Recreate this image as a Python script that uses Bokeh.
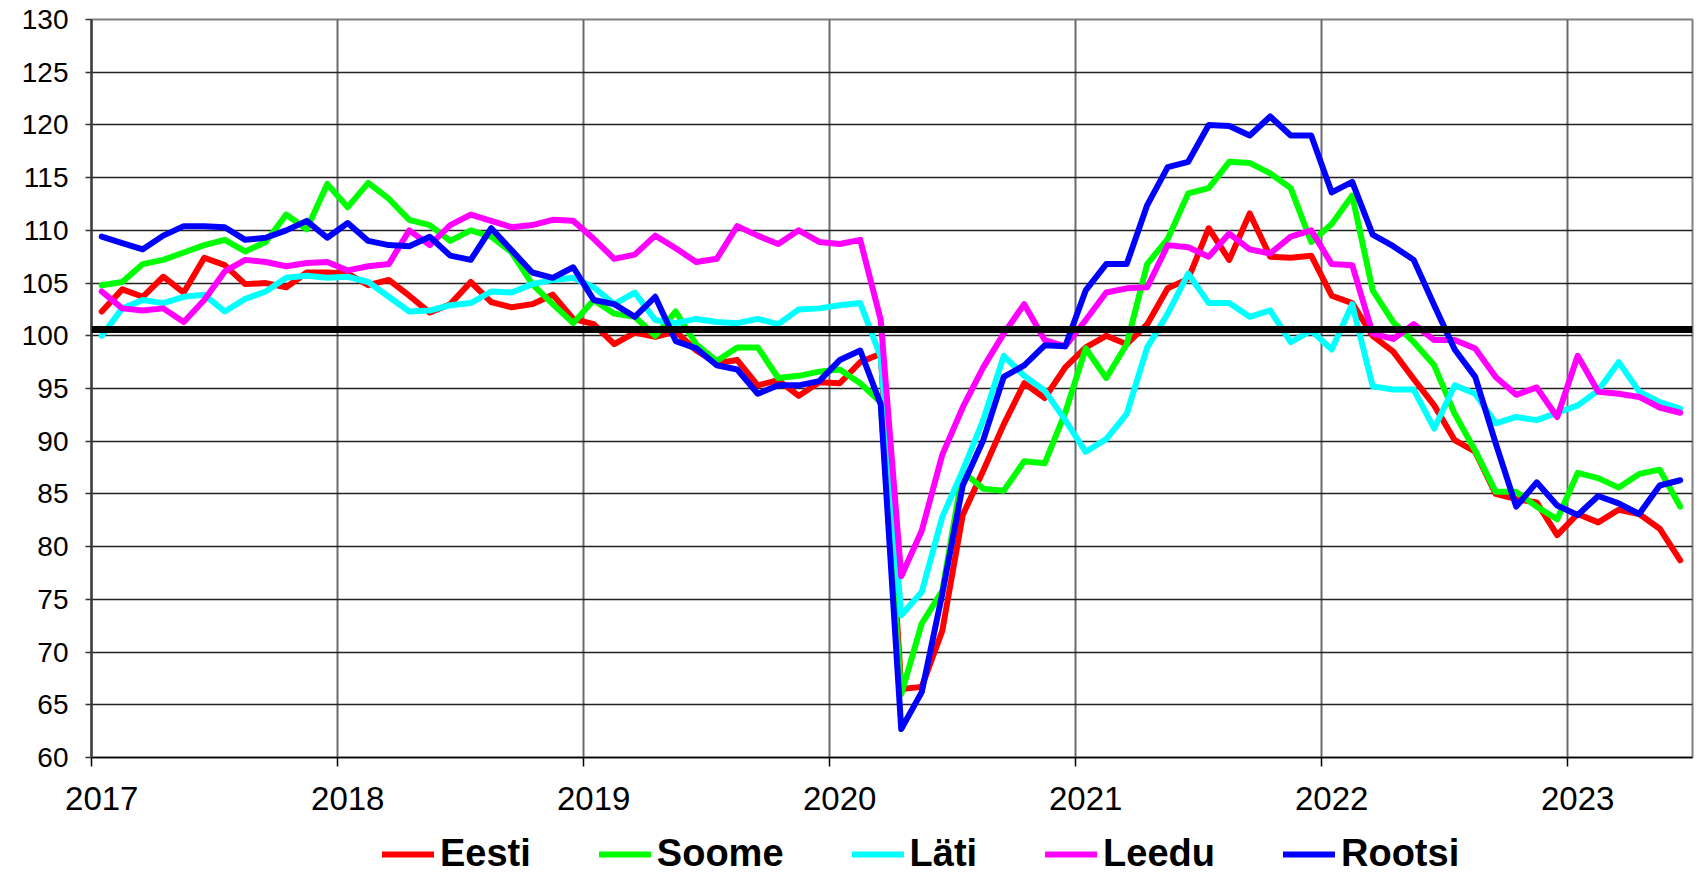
from bokeh.plotting import figure
from bokeh.layouts import column
from bokeh.models import Range1d, FixedTicker, Span, Legend, LegendItem
from bokeh.embed import file_html
from bokeh.resources import INLINE

years = ["2017", "2018", "2019", "2020", "2021", "2022", "2023"]
series_names = ["Eesti", "Soome", "Läti", "Leedu", "Rootsi"]

eesti = [102.3, 104.4, 103.7, 105.6, 104.1, 107.4, 106.7, 104.9, 105.0, 104.6, 106.0, 106.0,
         105.9, 104.8, 105.3, 103.8, 102.2, 103.0, 105.1, 103.2, 102.7, 103.0, 103.9, 101.6,
         101.1, 99.2, 100.3, 99.9, 100.4, 98.6, 97.4, 97.7, 95.3, 95.8, 94.3, 95.6,
         95.5, 97.5, 98.3, 66.5, 66.7, 72.0, 83.0, 87.2, 91.6, 95.5, 94.1, 97.0,
         98.9, 100.0, 99.2, 101.1, 104.5, 105.4, 110.2, 107.2, 111.6, 107.5, 107.4, 107.6,
         103.8, 103.1, 100.0, 98.5, 95.9, 93.4, 90.1, 89.0, 85.0, 84.5, 84.2, 81.1,
         83.1, 82.3, 83.5, 83.1, 81.7, 78.7]
soome = [104.8, 105.1, 106.8, 107.2, 107.9, 108.6, 109.1, 108.0, 108.9, 111.5, 110.1, 114.4,
         112.2, 114.5, 113.0, 111.0, 110.5, 109.0, 110.0, 109.4, 107.9, 104.9, 103.0, 101.2,
         103.4, 102.1, 101.8, 100.0, 102.3, 99.2, 97.6, 98.9, 98.9, 96.0, 96.2, 96.6,
         96.8, 95.5, 93.7, 66.0, 72.7, 75.8, 87.1, 85.5, 85.3, 88.1, 87.9, 92.7,
         98.8, 96.0, 99.2, 106.8, 109.2, 113.5, 114.0, 116.5, 116.4, 115.4, 114.0, 108.9,
         110.6, 113.3, 104.3, 101.3, 99.4, 97.2, 92.6, 89.1, 85.2, 85.2, 83.8, 82.6,
         87.0, 86.5, 85.6, 86.9, 87.3, 83.8]
lati = [100.0, 102.6, 103.4, 103.1, 103.7, 103.9, 102.3, 103.5, 104.2, 105.5, 105.7, 105.5,
        105.6, 105.1, 103.7, 102.3, 102.4, 102.9, 103.1, 104.2, 104.1, 104.9, 105.3, 105.5,
        104.6, 103.0, 104.1, 101.5, 101.2, 101.6, 101.3, 101.2, 101.6, 101.1, 102.5, 102.6,
        102.9, 103.1, 98.0, 73.5, 75.7, 82.8, 87.2, 92.0, 98.1, 96.2, 94.8, 92.0,
        89.0, 90.2, 92.6, 98.9, 102.1, 105.9, 103.1, 103.1, 101.8, 102.4, 99.4, 100.5,
        98.7, 103.0, 95.2, 94.9, 94.9, 91.2, 95.3, 94.5, 91.7, 92.3, 92.0, 92.7,
        93.4, 94.8, 97.5, 94.7, 93.7, 93.1]
leedu = [104.2, 102.6, 102.4, 102.6, 101.3, 103.4, 106.1, 107.2, 107.0, 106.6, 106.9, 107.0,
         106.2, 106.6, 106.8, 110.0, 108.6, 110.5, 111.5, 110.9, 110.3, 110.5, 111.0, 110.9,
         109.2, 107.3, 107.7, 109.5, 108.3, 107.0, 107.3, 110.4, 109.5, 108.7, 110.0, 108.9,
         108.7, 109.1, 101.5, 77.2, 81.5, 88.7, 93.2, 97.0, 100.2, 103.0, 99.6, 99.0,
         101.5, 104.1, 104.5, 104.6, 108.6, 108.4, 107.5, 109.7, 108.2, 107.8, 109.4, 110.0,
         106.8, 106.7, 100.2, 99.7, 101.1, 99.6, 99.6, 98.8, 96.1, 94.4, 95.1, 92.3,
         98.1, 94.7, 94.5, 94.2, 93.2, 92.7]
rootsi = [109.4, 108.8, 108.2, 109.5, 110.4, 110.4, 110.3, 109.1, 109.3, 110.0, 110.9, 109.3,
          110.7, 109.0, 108.6, 108.5, 109.4, 107.6, 107.2, 110.2, 108.1, 106.0, 105.5, 106.5,
          103.4, 103.0, 101.8, 103.7, 99.5, 98.8, 97.2, 96.8, 94.5, 95.3, 95.3, 95.7,
          97.7, 98.6, 93.5, 62.7, 66.2, 75.5, 85.8, 90.1, 96.1, 97.2, 99.1, 99.0,
          104.3, 106.8, 106.8, 112.4, 116.0, 116.5, 120.0, 119.9, 119.0, 120.8, 119.0, 119.0,
          113.6, 114.6, 109.6, 108.5, 107.2, 102.9, 98.7, 96.1, 89.8, 83.8, 86.1, 83.9,
          83.0, 84.8, 84.1, 83.1, 85.8, 86.3]
reference_level = 100.6

colors = ["#FF0000", "#00FF00", "#00FFFF", "#FF00FF", "#0000FF"]
all_series = [eesti, soome, lati, leedu, rootsi]
months = list(range(len(eesti)))

p = figure(width=1700, height=822, output_backend="svg", toolbar_location=None,
           x_range=Range1d(-0.5, 77.6), y_range=Range1d(60, 130),
           min_border_left=91, min_border_right=8, min_border_top=19, min_border_bottom=65,
           background_fill_color="white", border_fill_color="white")

p.outline_line_color = "#808080"
p.outline_line_width = 2

# x axis: labels centred on January, ticks/grid on year boundaries
label_pos = [12 * i for i in range(len(years))]
boundary_pos = [12 * i - 0.5 for i in range(len(years))]
p.xaxis.ticker = FixedTicker(ticks=label_pos, minor_ticks=boundary_pos)
p.xaxis.major_label_overrides = {lp: y for lp, y in zip(label_pos, years)}
p.xaxis.major_tick_line_color = None
p.xaxis.major_tick_out = 9
p.xaxis.major_tick_in = 0
p.xaxis.minor_tick_out = 9
p.xaxis.minor_tick_in = 0
p.xaxis.minor_tick_line_color = "black"
p.xaxis.minor_tick_line_width = 1.5
p.xaxis.axis_line_color = "black"
p.xaxis.axis_line_width = 1.5
p.xaxis.major_label_standoff = 20
p.xaxis.major_label_text_font = "Liberation Sans"
p.xaxis.major_label_text_font_size = "33px"
p.xaxis.major_label_text_color = "black"

p.xgrid.ticker = FixedTicker(ticks=boundary_pos[1:])
p.xgrid.grid_line_color = "#6a6a6a"
p.xgrid.grid_line_width = 2

p.yaxis.ticker = FixedTicker(ticks=list(range(60, 131, 5)))
p.yaxis.major_tick_out = 6
p.yaxis.major_tick_in = 0
p.yaxis.minor_tick_line_color = None
p.yaxis.major_tick_line_color = "#333333"
p.yaxis.major_tick_line_width = 1.5
p.yaxis.axis_line_color = "#404040"
p.yaxis.axis_line_width = 2.5
p.yaxis.major_label_standoff = 17
p.yaxis.major_label_text_font = "Liberation Sans"
p.yaxis.major_label_text_font_size = "28px"
p.yaxis.major_label_text_color = "black"

p.ygrid.grid_line_color = "#222222"
p.ygrid.grid_line_width = 1.5

for name, vals, col in zip(series_names, all_series, colors):
    p.line(months, vals, line_color=col, line_width=6,
           line_join="round", line_cap="round")

p.add_layout(Span(location=reference_level, dimension="width",
                  line_color="black", line_width=7))

# legend strip below the chart (its view range keeps the data lines out of sight)
leg = figure(width=1700, height=56, output_backend="svg", toolbar_location=None,
             x_range=Range1d(0, 1), y_range=Range1d(0, 1),
             min_border_left=0, min_border_right=0, min_border_top=0, min_border_bottom=0,
             outline_line_color=None, background_fill_color="white", border_fill_color="white")
leg.axis.visible = False
leg.grid.visible = False
leg_renderers = []
for name, vals, col in zip(series_names, all_series, colors):
    leg_renderers.append(leg.line(months, vals, line_color=col, line_width=6, line_cap="round"))

legend = Legend(items=[LegendItem(label=n, renderers=[r]) for n, r in zip(series_names, leg_renderers)],
                orientation="horizontal", location=(291, 3),
                glyph_width=52, glyph_height=20, label_standoff=6, spacing=68,
                label_text_font="Liberation Sans", label_text_font_size="38px",
                label_text_font_style="bold", label_text_line_height=1.0,
                label_text_color="black",
                border_line_color=None, background_fill_alpha=0,
                padding=0, margin=0)
leg.add_layout(legend, "center")

open("out.html", "w").write(file_html(column(p, leg), INLINE))
